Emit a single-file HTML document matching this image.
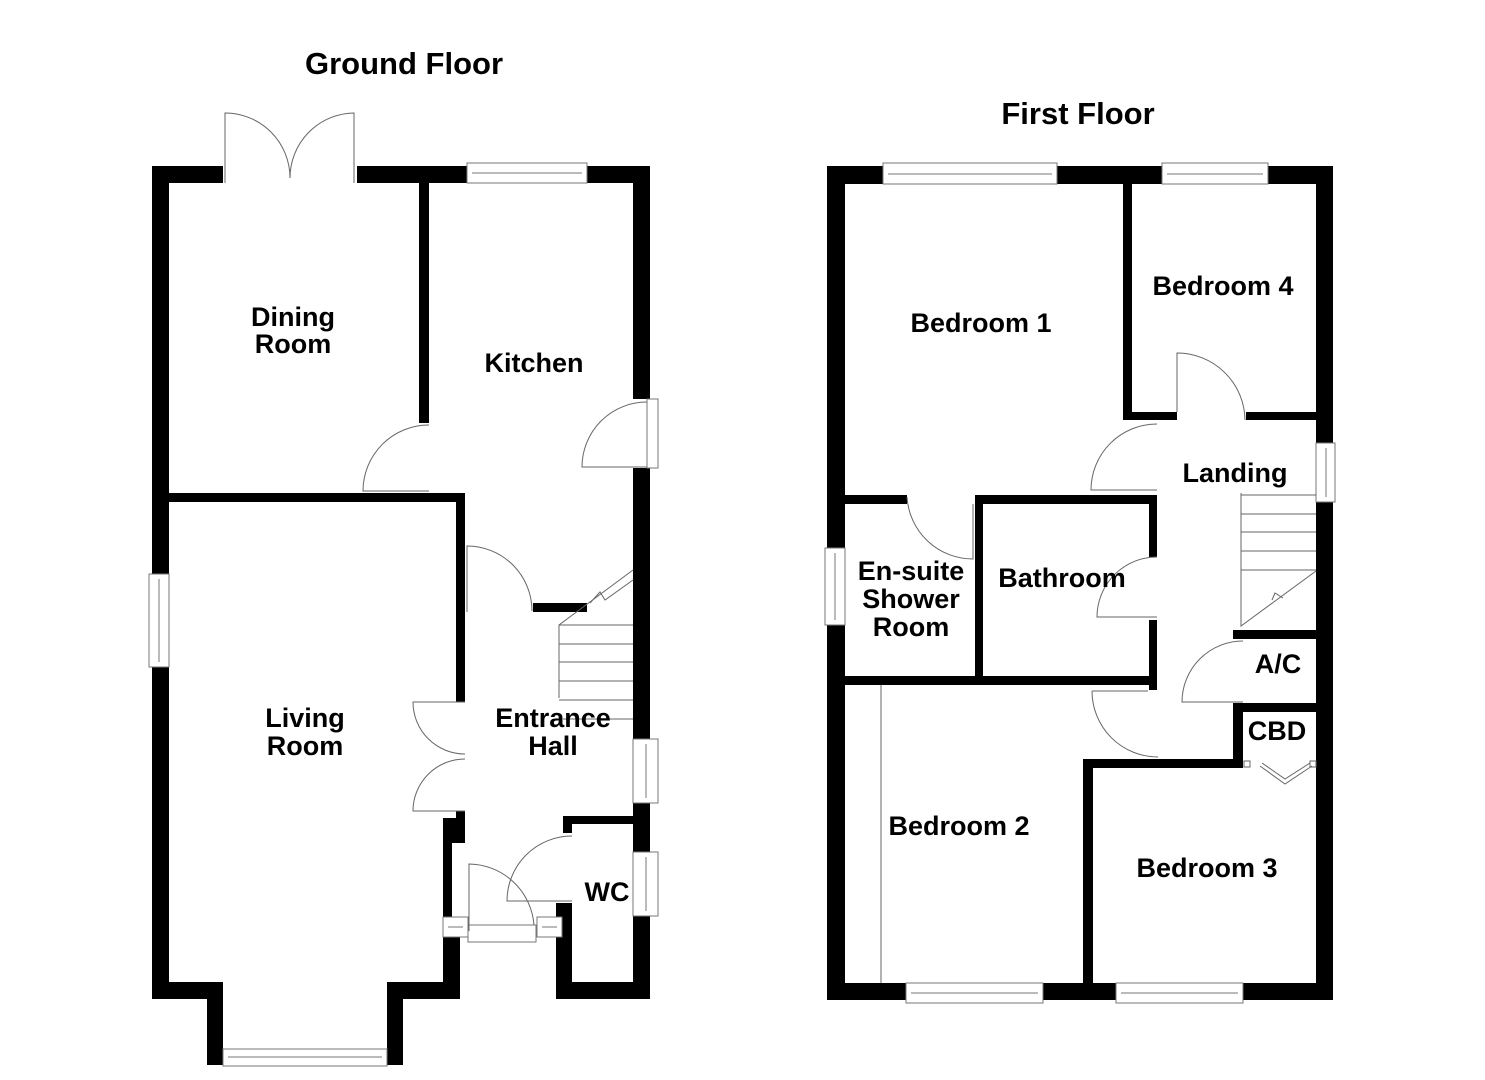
<!DOCTYPE html>
<html><head><meta charset="utf-8"><style>
html,body{margin:0;padding:0;background:#fff;width:1485px;height:1080px;overflow:hidden}
svg{display:block}
text{font-family:"Liberation Sans",Arial,sans-serif;font-weight:bold;fill:#000;text-anchor:middle}
</style></head><body>
<svg width="1485" height="1080" viewBox="0 0 1485 1080" xmlns="http://www.w3.org/2000/svg">
<g fill="#000">
<rect x="152" y="166" width="71" height="17"/>
<rect x="357" y="166" width="110" height="17"/>
<rect x="587" y="166" width="63" height="17"/>
<rect x="152" y="166" width="17" height="408"/>
<rect x="152" y="667" width="17" height="332"/>
<rect x="633" y="166" width="17" height="233"/>
<rect x="633" y="468" width="17" height="271"/>
<rect x="633" y="803" width="17" height="49"/>
<rect x="633" y="916" width="17" height="83"/>
<rect x="419" y="183" width="10" height="240"/>
<rect x="152" y="493" width="313" height="9"/>
<rect x="456" y="493" width="9" height="209"/>
<rect x="456" y="811" width="9" height="32"/>
<rect x="443" y="818" width="13" height="25"/>
<rect x="443" y="843" width="9" height="74"/>
<rect x="443" y="937" width="17" height="62"/>
<rect x="152" y="982" width="71" height="17"/>
<rect x="207" y="982" width="16" height="83"/>
<rect x="387" y="982" width="73" height="17"/>
<rect x="387" y="982" width="16" height="83"/>
<rect x="533" y="603" width="54" height="9"/>
<rect x="556" y="903" width="16" height="96"/>
<rect x="556" y="982" width="94" height="17"/>
<rect x="563" y="816" width="70" height="8"/>
<rect x="563" y="816" width="9" height="17"/>
<rect x="827" y="166" width="56" height="18"/>
<rect x="1057" y="166" width="105" height="18"/>
<rect x="1268" y="166" width="65" height="18"/>
<rect x="827" y="166" width="18" height="382"/>
<rect x="827" y="625" width="18" height="375"/>
<rect x="1316" y="166" width="17" height="277"/>
<rect x="1316" y="502" width="17" height="498"/>
<rect x="1123" y="184" width="9" height="236"/>
<rect x="1123" y="412" width="54" height="8"/>
<rect x="1246" y="412" width="70" height="8"/>
<rect x="845" y="495" width="62" height="9"/>
<rect x="975" y="495" width="182" height="9"/>
<rect x="975" y="495" width="8" height="186"/>
<rect x="1149" y="495" width="8" height="62"/>
<rect x="1149" y="620" width="8" height="70"/>
<rect x="845" y="676" width="312" height="9"/>
<rect x="1233" y="630" width="83" height="9"/>
<rect x="1233" y="703" width="83" height="9"/>
<rect x="1233" y="703" width="10" height="64"/>
<rect x="1083" y="759" width="160" height="9"/>
<rect x="1083" y="759" width="10" height="241"/>
<rect x="827" y="983" width="79" height="17"/>
<rect x="1043" y="983" width="73" height="17"/>
<rect x="1243" y="983" width="90" height="17"/>
</g>
<g fill="#fff" stroke="#777" stroke-width="1">
<rect x="467" y="163" width="120" height="20"/><line x1="472" y1="173" x2="582" y2="173"/>
<rect x="223" y="1049" width="164" height="17"/><line x1="228" y1="1057" x2="382" y2="1057"/>
<rect x="883" y="163" width="174" height="21"/><line x1="888" y1="174" x2="1052" y2="174"/>
<rect x="1162" y="163" width="106" height="21"/><line x1="1167" y1="174" x2="1263" y2="174"/>
<rect x="906" y="983" width="137" height="20"/><line x1="911" y1="993" x2="1038" y2="993"/>
<rect x="1116" y="983" width="127" height="20"/><line x1="1121" y1="993" x2="1238" y2="993"/>
<rect x="149" y="574" width="20" height="93"/><line x1="159" y1="579" x2="159" y2="662"/>
<rect x="633" y="739" width="25" height="64"/><line x1="646" y1="744" x2="646" y2="798"/>
<rect x="633" y="852" width="25" height="64"/><line x1="646" y1="857" x2="646" y2="911"/>
<rect x="647" y="399" width="11" height="69"/>
<rect x="825" y="548" width="20" height="77"/><line x1="835" y1="553" x2="835" y2="620"/>
<rect x="1316" y="443" width="19" height="59"/><line x1="1326" y1="448" x2="1326" y2="497"/>
<rect x="443" y="917" width="25" height="20"/><line x1="448" y1="927" x2="463" y2="927"/>
<rect x="537" y="917" width="25" height="20"/><line x1="542" y1="927" x2="557" y2="927"/>
<rect x="468" y="925" width="68" height="17"/>
</g>
<g fill="none" stroke="#666" stroke-width="1">
<path d="M225 183 V113 A65 65 0 0 1 290 178"/>
<path d="M354 183 V113 A65 65 0 0 0 290 178"/>
<path d="M429 425 A66 66 0 0 0 363 491 H429"/>
<path d="M647 402 A65 65 0 0 0 582 467 H647"/>
<path d="M467 612 V546 A65 65 0 0 1 532 611"/>
<path d="M465 702 H413 A52 52 0 0 0 465 754"/>
<path d="M465 811 H413 A52 52 0 0 1 465 759"/>
<path d="M469 931 V864 A66 66 0 0 1 534 925"/>
<path d="M572 836 A65 65 0 0 0 507 901 H572"/>
<path d="M559 698 V625 L633 570"/>
<path d="M559 625 H633 M559 644 H633 M559 662 H633 M559 681 H633 M559 700 H633 M563 719 H633"/>
<path d="M590 603 L600 592 L605 600 L633 580"/>
<path d="M1177 412 V353 A68 68 0 0 1 1245 420"/>
<path d="M1157 424 A66 66 0 0 0 1091 490 H1157"/>
<path d="M907 497 A66 66 0 0 0 973 559 V504"/>
<path d="M1157 557 A60 60 0 0 0 1097 617 H1157"/>
<path d="M1243 641 A61 61 0 0 0 1182 702 H1243"/>
<path d="M1092 691 H1148 M1092 691 A66 66 0 0 0 1158 757"/>
<path d="M1241 493 V626 L1316 571"/>
<path d="M1241 495 H1316 M1241 514 H1316 M1241 532 H1316 M1241 551 H1316 M1241 570 H1316"/>
<path d="M1272 600 L1275 593 L1283 598"/>
<rect x="1244" y="761" width="6" height="6"/><rect x="1310" y="761" width="6" height="6"/>
<path d="M1260 766 L1285 784 L1312 766 M1262 763 L1285 779 L1310 763"/>
<line x1="881" y1="685" x2="881" y2="983"/>
</g>
<text x="404" y="74" font-size="31">Ground Floor</text>
<text x="1078" y="124" font-size="31">First Floor</text>
<g font-size="27">
<text x="293" y="326">Dining</text><text x="293" y="353">Room</text>
<text x="534" y="372">Kitchen</text>
<text x="305" y="727">Living</text><text x="305" y="755">Room</text>
<text x="553" y="727">Entrance</text><text x="553" y="755">Hall</text>
<text x="607" y="901">WC</text>
<text x="981" y="332">Bedroom 1</text>
<text x="1223" y="295">Bedroom 4</text>
<text x="1235" y="482">Landing</text>
<text x="911" y="580">En-suite</text><text x="911" y="608">Shower</text><text x="911" y="636">Room</text>
<text x="1062" y="587">Bathroom</text>
<text x="1278" y="673">A/C</text>
<text x="1277" y="740">CBD</text>
<text x="959" y="835">Bedroom 2</text>
<text x="1207" y="877">Bedroom 3</text>
</g>
</svg>
</body></html>
